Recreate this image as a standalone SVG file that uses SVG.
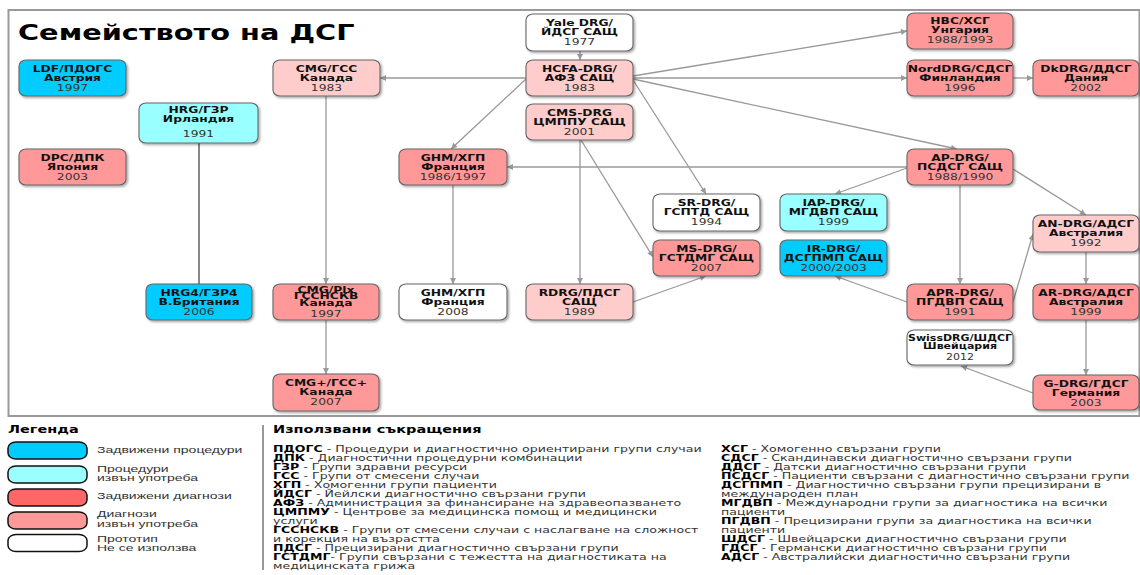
<svg xmlns="http://www.w3.org/2000/svg" width="1140" height="575" viewBox="0 0 1140 575">
<defs>
<style>
.fr{fill:#fff;stroke:#999;stroke-width:2}
.nd{stroke:#666;stroke-width:1.1;filter:url(#sh)}
.b1{fill:#00ccff}.c1{fill:#99ffff}.r1{fill:#ff9999}.p1{fill:#ffcccc}.w1{fill:#fff}
.t{font-family:"DejaVu Sans",sans-serif;font-weight:bold;font-size:12.3px;text-anchor:middle;fill:#111}
.yr{font-weight:normal;fill:#333}
.ln{stroke:#999;stroke-width:1.3;fill:none;marker-end:url(#ar)}
.ttl{font-family:"DejaVu Sans",sans-serif;font-weight:bold;font-size:28.8px;fill:#000}
.hd{font-family:"DejaVu Sans",sans-serif;font-weight:bold;font-size:14.5px;fill:#000}
.lg{font-family:"Liberation Sans",Arial,sans-serif;font-size:14px;fill:#333}
.sw{stroke:#111;stroke-width:1.5}
.ab{font-family:"DejaVu Sans",sans-serif;font-size:12.6px;fill:#333}
.bb{font-weight:bold;fill:#000}
</style>
<filter id="sh" x="-10%" y="-10%" width="130%" height="140%">
<feDropShadow dx="1.5" dy="1.5" stdDeviation="1" flood-color="#000" flood-opacity="0.35"/>
</filter>
<marker id="ar" viewBox="0 0 10 10" refX="10" refY="5" markerWidth="7" markerHeight="6" markerUnits="userSpaceOnUse" orient="auto">
<path d="M0,0 L10,5 L0,10 z" fill="#999"/>
</marker>
</defs>
<rect x="0" y="0" width="1140" height="575" fill="#fff"/>
<rect class="fr" x="8.5" y="10" width="1131" height="406"/>
<text class="ttl" transform="translate(18,40) scale(1,0.72)">Семейството на ДСГ</text>

<g id="connectors">
<path class="ln" d="M580,51 L580,60"/>
<path class="ln" d="M526,78 L380,78"/>
<path class="ln" d="M526,79 L451,149"/>
<path class="ln" d="M633,76 L907,31"/>
<path class="ln" d="M633,78 L907,78"/>
<path class="ln" d="M633,79 L957,149"/>
<path class="ln" d="M633,80 L706,194"/>
<path class="ln" d="M1013,78 L1033,78"/>
<path class="ln" d="M907,167 L507,167"/>
<path class="ln" d="M907,168 L835,194"/>
<path class="ln" d="M1013,169 L1086,215"/>
<path class="ln" d="M960,185 L960,284"/>
<path class="ln" d="M907,302 L835,276"/>
<path class="ln" d="M1013,302 L1033,234"/>
<path class="ln" d="M1086,252 L1086,284"/>
<path class="ln" d="M1086,320 L1086,375"/>
<path class="ln" d="M1033,393 L961,366"/>
<path class="ln" d="M580,140 L580,284"/>
<path class="ln" d="M581,140 L653,257"/>
<path class="ln" d="M633,302 L706,276"/>
<path class="ln" d="M453,185 L453,284"/>
<path class="ln" d="M326,96 L326,284"/>
<path class="ln" d="M326,320 L326,374"/>
<path d="M199,143 L199,284" stroke="#888" stroke-width="2" fill="none"/>
</g>

<g id="ldf"><rect class="nd b1" x="19" y="60" width="107" height="36" rx="7" ry="6"/>
<text class="t" transform="translate(72.5,60) scale(1,0.72)"><tspan x="0" y="16.7">LDF/ПДОГС</tspan><tspan x="0" y="29.2">Австрия</tspan><tspan class="yr" x="0" y="43.7">1997</tspan></text></g>

<g id="dpc"><rect class="nd r1" x="19" y="149" width="107" height="36" rx="7" ry="6"/>
<text class="t" transform="translate(72.5,149) scale(1,0.72)"><tspan x="0" y="16.7">DPC/ДПК</tspan><tspan x="0" y="29.2">Япония</tspan><tspan class="yr" x="0" y="43.7">2003</tspan></text></g>

<g id="hrg"><rect class="nd c1" x="139" y="103" width="119" height="40" rx="7" ry="6"/>
<text class="t" transform="translate(198.5,103) scale(1,0.72)"><tspan x="0" y="14.3">HRG/ГЗР</tspan><tspan x="0" y="26.4">Ирландия</tspan><tspan class="yr" x="0" y="47.2">1991</tspan></text></g>

<g id="hrg4"><rect class="nd b1" x="146" y="284" width="106" height="36" rx="7" ry="6"/>
<text class="t" transform="translate(199,284) scale(1,0.72)"><tspan x="0" y="16.7">HRG4/ГЗР4</tspan><tspan x="0" y="29.2">В.Британия</tspan><tspan class="yr" x="0" y="43.7">2006</tspan></text></g>

<g id="cmg"><rect class="nd p1" x="273" y="60" width="107" height="36" rx="7" ry="6"/>
<text class="t" transform="translate(326.5,60) scale(1,0.72)"><tspan x="0" y="16.7">CMG/ГСС</tspan><tspan x="0" y="29.2">Канада</tspan><tspan class="yr" x="0" y="43.7">1983</tspan></text></g>

<g id="cmgplx"><rect class="nd r1" x="273" y="284" width="106" height="36" rx="7" ry="6"/>
<text class="t" transform="translate(326,284) scale(1,0.64)"><tspan x="0" y="14.5">CMG/Plx</tspan><tspan x="0" y="24">ГССНСКВ</tspan><tspan x="0" y="34.5">Канада</tspan><tspan class="yr" x="0" y="51">1997</tspan></text></g>

<g id="cmgplus"><rect class="nd r1" x="273" y="374" width="106" height="37" rx="7" ry="6"/>
<text class="t" transform="translate(326,374) scale(1,0.72)"><tspan x="0" y="16.7">CMG+/ГСС+</tspan><tspan x="0" y="29.2">Канада</tspan><tspan class="yr" x="0" y="43.7">2007</tspan></text></g>

<g id="ghm86"><rect class="nd r1" x="399" y="149" width="108" height="36" rx="7" ry="6"/>
<text class="t" transform="translate(453,149) scale(1,0.72)"><tspan x="0" y="16.7">GHM/ХГП</tspan><tspan x="0" y="29.2">Франция</tspan><tspan class="yr" x="0" y="43.7">1986/1997</tspan></text></g>

<g id="ghm08"><rect class="nd w1" x="399" y="284" width="108" height="36" rx="7" ry="6"/>
<text class="t" transform="translate(453,284) scale(1,0.72)"><tspan x="0" y="16.7">GHM/ХГП</tspan><tspan x="0" y="29.2">Франция</tspan><tspan class="yr" x="0" y="43.7">2008</tspan></text></g>

<g id="yale"><rect class="nd w1" x="526" y="14" width="107" height="37" rx="7" ry="6"/>
<text class="t" transform="translate(579.5,14) scale(1,0.72)"><tspan x="0" y="16.9">Yale DRG/</tspan><tspan x="0" y="28.8">ЙДСГ САЩ</tspan><tspan class="yr" x="0" y="43.7">1977</tspan></text></g>

<g id="hcfa"><rect class="nd p1" x="526" y="60" width="107" height="36" rx="7" ry="6"/>
<text class="t" transform="translate(579.5,60) scale(1,0.72)"><tspan x="0" y="16.7">HCFA-DRG/</tspan><tspan x="0" y="29.2">АФЗ САЩ</tspan><tspan class="yr" x="0" y="43.7">1983</tspan></text></g>

<g id="cms"><rect class="nd p1" x="526" y="104" width="107" height="36" rx="7" ry="6"/>
<text class="t" transform="translate(579.5,104) scale(1,0.72)"><tspan x="0" y="16.7">CMS-DRG</tspan><tspan x="0" y="29.2">ЦМППУ САЩ</tspan><tspan class="yr" x="0" y="43.7">2001</tspan></text></g>

<g id="rdrg"><rect class="nd p1" x="526" y="284" width="107" height="36" rx="7" ry="6"/>
<text class="t" transform="translate(579.5,284) scale(1,0.72)"><tspan x="0" y="16.7">RDRG/ПДСГ</tspan><tspan x="0" y="29.2">САЩ</tspan><tspan class="yr" x="0" y="43.7">1989</tspan></text></g>

<g id="sr"><rect class="nd w1" x="653" y="194" width="107" height="37" rx="7" ry="6"/>
<text class="t" transform="translate(706.5,194) scale(1,0.72)"><tspan x="0" y="16.7">SR-DRG/</tspan><tspan x="0" y="29.2">ГСПТД САЩ</tspan><tspan class="yr" x="0" y="43.7">1994</tspan></text></g>

<g id="ms"><rect class="nd r1" x="653" y="240" width="107" height="36" rx="7" ry="6"/>
<text class="t" transform="translate(706.5,240) scale(1,0.72)"><tspan x="0" y="16.7">MS-DRG/</tspan><tspan x="0" y="29.2">ГСТДМГ САЩ</tspan><tspan class="yr" x="0" y="43.7">2007</tspan></text></g>

<g id="iap"><rect class="nd c1" x="780" y="194" width="107" height="37" rx="7" ry="6"/>
<text class="t" transform="translate(833.5,194) scale(1,0.72)"><tspan x="0" y="16.7">IAP-DRG/</tspan><tspan x="0" y="29.2">МГДВП САЩ</tspan><tspan class="yr" x="0" y="43.7">1999</tspan></text></g>

<g id="ir"><rect class="nd b1" x="780" y="240" width="107" height="36" rx="7" ry="6"/>
<text class="t" transform="translate(833.5,240) scale(1,0.72)"><tspan x="0" y="16.7">IR-DRG/</tspan><tspan x="0" y="29.2">ДСГПМП САЩ</tspan><tspan class="yr" x="0" y="43.7">2000/2003</tspan></text></g>

<g id="hbc"><rect class="nd r1" x="907" y="13" width="106" height="36" rx="7" ry="6"/>
<text class="t" transform="translate(960,12) scale(1,0.72)"><tspan x="0" y="16.7">HBC/ХСГ</tspan><tspan x="0" y="29.2">Унгария</tspan><tspan class="yr" x="0" y="43.7">1988/1993</tspan></text></g>

<g id="nord"><rect class="nd r1" x="907" y="60" width="106" height="36" rx="7" ry="6"/>
<text class="t" transform="translate(960,60) scale(1,0.72)"><tspan x="0" y="16.7">NordDRG/СДСГ</tspan><tspan x="0" y="29.2">Финландия</tspan><tspan class="yr" x="0" y="43.7">1996</tspan></text></g>

<g id="ap"><rect class="nd r1" x="907" y="149" width="106" height="36" rx="7" ry="6"/>
<text class="t" transform="translate(960,149) scale(1,0.72)"><tspan x="0" y="16.7">AP-DRG/</tspan><tspan x="0" y="29.2">ПСДСГ САЩ</tspan><tspan class="yr" x="0" y="43.7">1988/1990</tspan></text></g>

<g id="apr"><rect class="nd r1" x="907" y="284" width="106" height="36" rx="7" ry="6"/>
<text class="t" transform="translate(960,284) scale(1,0.72)"><tspan x="0" y="16.7">APR-DRG/</tspan><tspan x="0" y="29.2">ПГДВП САЩ</tspan><tspan class="yr" x="0" y="43.7">1991</tspan></text></g>

<g id="swiss"><rect class="nd w1" x="907" y="330" width="106" height="35" rx="7" ry="6"/>
<text class="t" style="font-size:11px" transform="translate(960,330) scale(1,0.72)"><tspan x="0" y="15.3">SwissDRG/ШДСГ</tspan><tspan x="0" y="26.4">Швейцария</tspan><tspan class="yr" x="0" y="41.7">2012</tspan></text></g>

<g id="dk"><rect class="nd r1" x="1033" y="60" width="106" height="36" rx="7" ry="6"/>
<text class="t" transform="translate(1086,60) scale(1,0.72)"><tspan x="0" y="16.7">DkDRG/ДДСГ</tspan><tspan x="0" y="29.2">Дания</tspan><tspan class="yr" x="0" y="43.7">2002</tspan></text></g>

<g id="an"><rect class="nd p1" x="1033" y="215" width="106" height="37" rx="7" ry="6"/>
<text class="t" transform="translate(1086,215) scale(1,0.72)"><tspan x="0" y="16.7">AN-DRG/АДСГ</tspan><tspan x="0" y="29.2">Австралия</tspan><tspan class="yr" x="0" y="43.7">1992</tspan></text></g>

<g id="ar-drg"><rect class="nd r1" x="1033" y="284" width="106" height="36" rx="7" ry="6"/>
<text class="t" transform="translate(1086,284) scale(1,0.72)"><tspan x="0" y="16.7">AR-DRG/АДСГ</tspan><tspan x="0" y="29.2">Австралия</tspan><tspan class="yr" x="0" y="43.7">1999</tspan></text></g>

<g id="gdrg"><rect class="nd r1" x="1033" y="375" width="106" height="35" rx="7" ry="6"/>
<text class="t" transform="translate(1086,375) scale(1,0.72)"><tspan x="0" y="16.7">G-DRG/ГДСГ</tspan><tspan x="0" y="29.2">Германия</tspan><tspan class="yr" x="0" y="43.7">2003</tspan></text></g>

<g id="legend">
<text class="hd" transform="translate(8,433) scale(1,0.72)">Легенда</text>
<rect class="sw" x="8" y="442" width="79" height="17" rx="8" ry="6" fill="#00ccff"/>
<rect class="sw" x="8" y="466" width="79" height="17" rx="8" ry="6" fill="#99ffff"/>
<rect class="sw" x="8" y="489" width="79" height="17" rx="8" ry="6" fill="#ff6666"/>
<rect class="sw" x="8" y="512" width="79" height="17" rx="8" ry="6" fill="#ff9999"/>
<rect class="sw" x="8" y="534.5" width="79" height="17" rx="8" ry="6" fill="#ffffff"/>
<text class="lg" transform="translate(97,452.5) scale(1,0.64)">Задвижени процедури</text>
<text class="lg" transform="translate(97,471.5) scale(1,0.64)">Процедури</text>
<text class="lg" transform="translate(97,481) scale(1,0.64)">извън употреба</text>
<text class="lg" transform="translate(97,498.5) scale(1,0.64)">Задвижени диагнози</text>
<text class="lg" transform="translate(97,517) scale(1,0.64)">Диагнози</text>
<text class="lg" transform="translate(97,526.5) scale(1,0.64)">извън употреба</text>
<text class="lg" transform="translate(97,541.5) scale(1,0.64)">Прототип</text>
<text class="lg" transform="translate(97,551) scale(1,0.64)">Не се използва</text>
</g>
<line x1="263" y1="425" x2="263" y2="570" stroke="#333" stroke-width="1"/>

<g id="abbreviations">
<text class="hd" transform="translate(273,433) scale(1,0.72)">Използвани съкращения</text>
<text class="ab" transform="translate(273,452) scale(1,0.7)">
<tspan x="0" y="0"><tspan class="bb">ПДОГС</tspan> - Процедури и диагностично ориентирани групи случаи</tspan>
<tspan x="0" y="12.86"><tspan class="bb">ДПК</tspan> - Диагностични процедурни комбинации</tspan>
<tspan x="0" y="25.71"><tspan class="bb">ГЗР</tspan> - Групи здравни ресурси</tspan>
<tspan x="0" y="38.57"><tspan class="bb">ГСС</tspan> - Групи от смесени случаи</tspan>
<tspan x="0" y="51.43"><tspan class="bb">ХГП</tspan> - Хомогенни групи пациенти</tspan>
<tspan x="0" y="64.29"><tspan class="bb">ЙДСГ</tspan> - Йейлски диагностично свързани групи</tspan>
<tspan x="0" y="77.14"><tspan class="bb">АФЗ</tspan> - Администрация за финансиране на здравеопазването</tspan>
<tspan x="0" y="90"><tspan class="bb">ЦМПМУ</tspan> - Центрове за медицинска помощ и медицински</tspan>
<tspan x="0" y="102.86">услуги</tspan>
<tspan x="0" y="115.71"><tspan class="bb">ГССНСКВ</tspan> - Групи от смесени случаи с наслагване на сложност</tspan>
<tspan x="0" y="128.57">и корекция на възрастта</tspan>
<tspan x="0" y="141.43"><tspan class="bb">ПДСГ</tspan> - Прецизирани диагностично свързани групи</tspan>
<tspan x="0" y="154.29"><tspan class="bb">ГСТДМГ</tspan>- Групи свързани с тежестта на диагностиката на</tspan>
<tspan x="0" y="167.14">медицинската грижа</tspan>
</text>
<text class="ab" transform="translate(721,452) scale(1,0.7)">
<tspan x="0" y="0"><tspan class="bb">ХСГ</tspan> - Хомогенно свързани групи</tspan>
<tspan x="0" y="12.86"><tspan class="bb">СДСГ</tspan> - Скандинавски диагностично свързани групи</tspan>
<tspan x="0" y="25.71"><tspan class="bb">ДДСГ</tspan> - Датски диагностично свързани групи</tspan>
<tspan x="0" y="38.57"><tspan class="bb">ПСДСГ</tspan> - Пациенти свързани с диагностично свързани групи</tspan>
<tspan x="0" y="51.43"><tspan class="bb">ДСГПМП</tspan> - Диагностично свързани групи прецизирани в</tspan>
<tspan x="0" y="64.29">международен план</tspan>
<tspan x="0" y="77.14"><tspan class="bb">МГДВП</tspan> - Международни групи за диагностика на всички</tspan>
<tspan x="0" y="90">пациенти</tspan>
<tspan x="0" y="102.86"><tspan class="bb">ПГДВП</tspan> - Прецизирани групи за диагностика на всички</tspan>
<tspan x="0" y="115.71">пациенти</tspan>
<tspan x="0" y="128.57"><tspan class="bb">ШДСГ</tspan> - Швейцарски диагностично свързани групи</tspan>
<tspan x="0" y="141.43"><tspan class="bb">ГДСГ</tspan> - Германски диагностично свързани групи</tspan>
<tspan x="0" y="154.29"><tspan class="bb">АДСГ</tspan> - Австралийски диагностично свързани групи</tspan>
</text>
</g>
</svg>
